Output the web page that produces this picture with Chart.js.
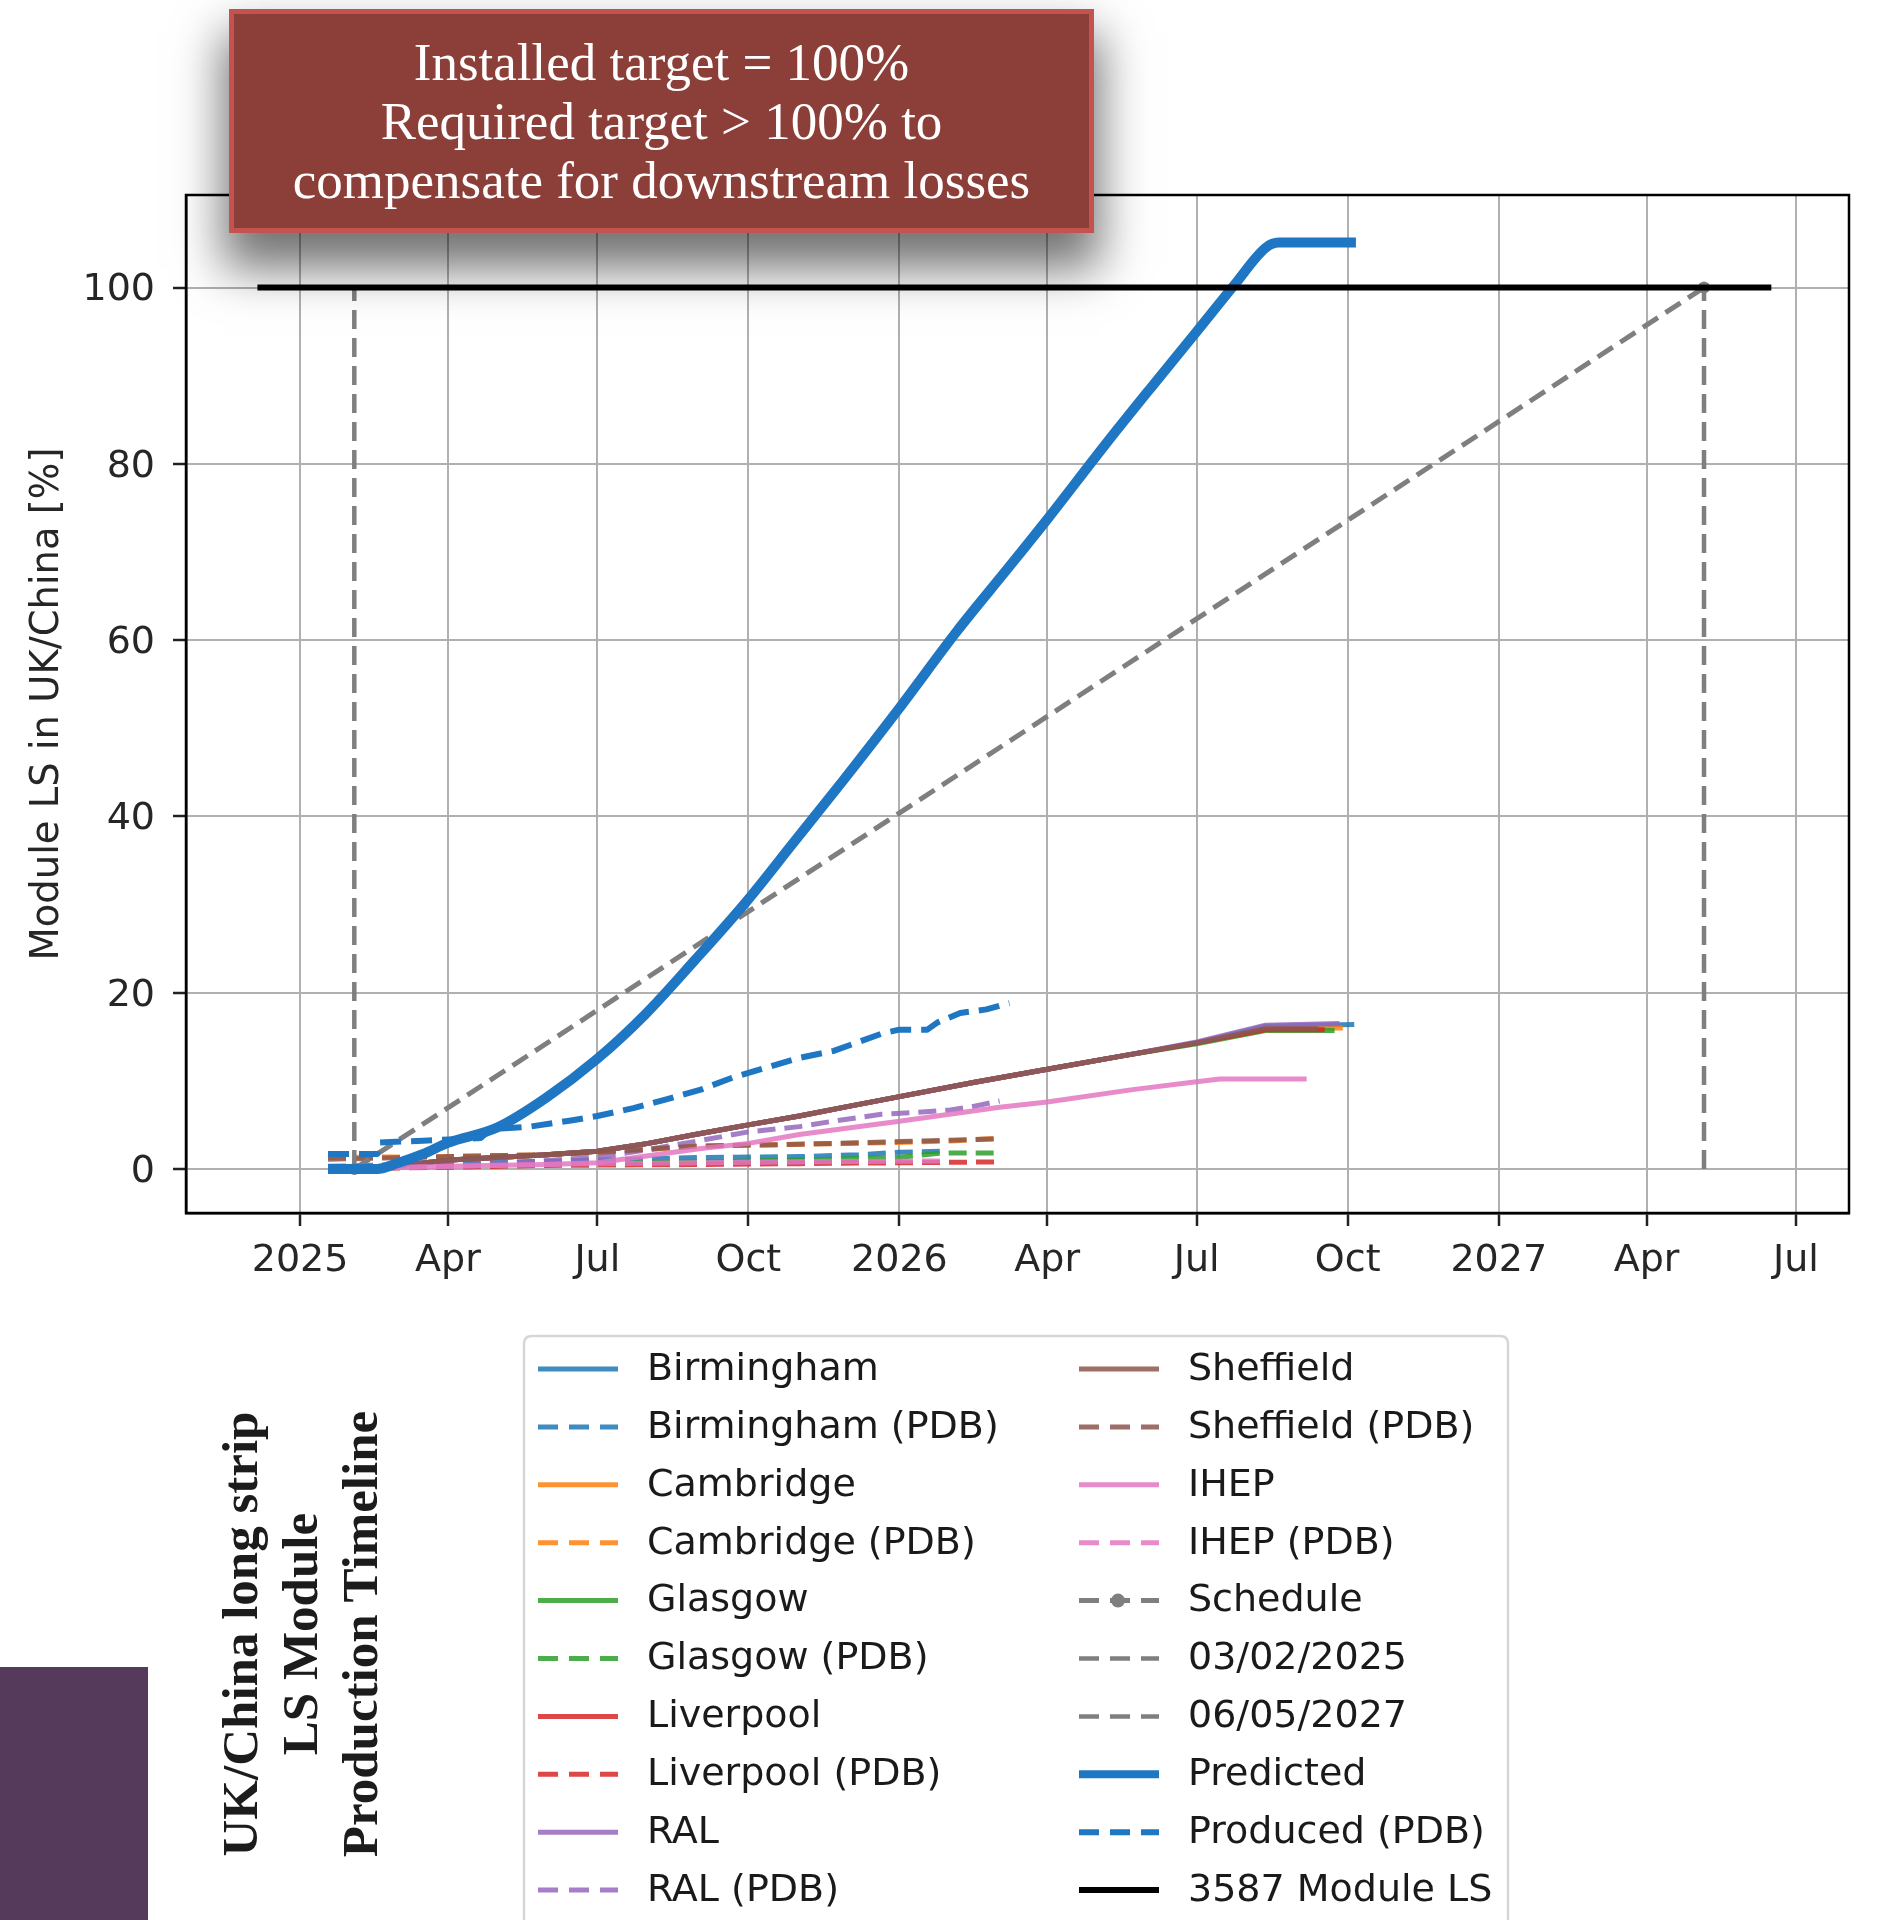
<!DOCTYPE html>
<html>
<head>
<meta charset="utf-8">
<script src="https://cdn.jsdelivr.net/npm/chart.js@4.4.1/dist/chart.umd.min.js"></script>
<style>
html,body{margin:0;padding:0;background:#fff;}
#wrap{position:relative;width:1888px;height:1920px;overflow:hidden;background:#fff;}
#c{position:absolute;left:0;top:0;}
#note{position:absolute;left:229px;top:9px;width:865px;height:224px;box-sizing:border-box;background:#8c3e38;border:5px solid #c2534e;box-shadow:0 30px 45px 6px rgba(0,0,0,0.55);color:#fff;font-family:'Liberation Serif',serif;font-size:53px;line-height:59px;text-align:center;display:flex;align-items:center;justify-content:center;}
#side{position:absolute;left:0;top:1667px;width:148px;height:253px;background:#553a5c;}
#vt{position:absolute;left:0;top:1544px;width:600px;height:180px;transform:rotate(-90deg);transform-origin:300px 90px;font-family:'Liberation Serif',serif;font-weight:bold;font-size:51px;line-height:60px;text-align:center;color:#1c1c1c;}
</style>
</head>
<body>
<div id="wrap">
<canvas id="c" width="1888" height="1920"></canvas>
<div id="note"><div>Installed target = 100%<br>Required target &gt; 100% to<br>compensate for downstream losses</div></div>
<div id="vt">UK/China long strip<br>LS Module<br>Production Timeline</div>
<div id="side"></div>
</div>
<script>
// ---------- DATA ----------
const xTickDates = ['2025-01-01','2025-04-01','2025-07-01','2025-10-01','2026-01-01','2026-04-01','2026-07-01','2026-10-01','2027-01-01','2027-04-01','2027-07-01'];
const xTickLabels = ['2025','Apr','Jul','Oct','2026','Apr','Jul','Oct','2027','Apr','Jul'];
const yTicks = [0,20,40,60,80,100];

const siteDates = ['2025-01-18','2025-02-10','2025-03-02','2025-04-02','2025-05-01','2025-05-31','2025-07-01','2025-08-01','2025-09-01','2025-10-01','2025-11-01','2025-12-01','2026-01-01','2026-02-15','2026-04-01','2026-05-16','2026-07-01','2026-08-12'];

const birminghamDates = siteDates.concat(['2026-10-05']);
const birminghamPct   = [0,0.1,0.4,1.0,1.3,1.6,2.0,2.9,4.0,5.0,6.0,7.1,8.2,9.8,11.3,12.8,14.3,16.2,16.4];
const cambridgeDates  = siteDates.concat(['2026-09-28']);
const cambridgePct    = [0,0.1,0.4,1.0,1.3,1.6,2.0,2.9,4.0,5.0,6.0,7.1,8.2,9.8,11.3,12.8,14.3,15.9,16.0];
const glasgowDates    = siteDates.concat(['2026-09-23']);
const glasgowPct      = [0,0.1,0.4,1.0,1.3,1.6,2.0,2.9,4.0,5.0,6.0,7.1,8.2,9.8,11.3,12.8,14.2,15.7,15.7];
const liverpoolDates  = siteDates.concat(['2026-09-17']);
const liverpoolPct    = [0,0.1,0.4,1.0,1.3,1.6,2.0,2.9,4.0,5.0,6.0,7.1,8.2,9.8,11.3,12.8,14.3,15.8,15.8];
const ralDates        = siteDates.concat(['2026-09-26']);
const ralPct          = [0,0.1,0.4,1.0,1.3,1.6,2.0,2.9,4.0,5.0,6.0,7.1,8.2,9.8,11.3,12.8,14.4,16.3,16.5];
const sheffieldDates  = siteDates.concat(['2026-09-13']);
const sheffieldPct    = [0,0.1,0.4,1.0,1.3,1.6,2.0,2.9,4.0,5.0,6.0,7.1,8.2,9.8,11.3,12.8,14.3,15.9,15.9];
const ihepDates = ['2025-01-31','2025-04-02','2025-05-31','2025-07-01','2025-08-01','2025-09-01','2025-10-01','2025-11-01','2026-01-01','2026-03-03','2026-04-01','2026-05-23','2026-07-01','2026-07-15','2026-09-06'];
const ihepPct   = [0,0.3,0.5,0.7,1.5,2.3,2.9,3.9,5.4,7.0,7.6,9.0,9.9,10.2,10.2];

const birminghamPdbDates = ['2025-01-18','2025-04-02','2025-07-01','2025-09-01','2025-11-01','2025-12-07','2026-01-01','2026-01-26'];
const birminghamPdbPct   = [0.3,0.6,1.0,1.3,1.4,1.6,1.9,2.0];
const cambridgePdbDates  = ['2025-01-18','2025-04-02','2025-05-31','2025-07-01','2025-08-01','2025-09-01','2025-11-01','2026-01-01','2026-02-05','2026-03-03'];
const cambridgePdbPct    = [1.3,1.4,1.6,1.8,2.2,2.6,2.8,3.0,3.2,3.5];
const glasgowPdbDates    = ['2025-01-18','2025-04-02','2025-07-01','2025-09-01','2025-11-01','2026-01-01','2026-01-26','2026-03-03'];
const glasgowPdbPct      = [0,0.3,0.6,0.8,1.0,1.3,1.8,1.8];
const liverpoolPdbDates  = ['2025-01-18','2025-04-02','2025-05-31','2025-09-01','2025-11-01','2026-01-01','2026-03-03'];
const liverpoolPdbPct    = [0,0.2,0.4,0.5,0.6,0.7,0.8];
const ralPdbDates        = ['2025-01-18','2025-04-02','2025-07-01','2025-08-01','2025-09-01','2025-10-01','2025-11-01','2025-11-21','2025-12-21','2026-01-11','2026-02-01','2026-02-15','2026-03-03'];
const ralPdbPct          = [0,0.3,1.3,2.2,3.2,4.2,4.8,5.4,6.2,6.4,6.7,7.1,7.7];
const sheffieldPdbDates  = ['2025-01-18','2025-04-02','2025-05-31','2025-07-01','2025-09-01','2025-11-01','2026-01-01','2026-03-03'];
const sheffieldPdbPct    = [1.1,1.4,1.6,1.9,2.6,2.8,3.1,3.4];
const ihepPdbDates       = ['2025-01-18','2025-04-02','2025-07-01','2025-09-01','2025-11-01','2026-01-26'];
const ihepPdbPct         = [0,0.3,0.6,0.7,0.8,0.9];

const scheduleDates = ['2025-02-03','2027-05-06'];
const schedulePct   = [0,100];
const startLineDates = ['2025-02-03','2025-02-03'];
const startLinePct   = [0,100];
const endLineDates   = ['2027-05-06','2027-05-06'];
const endLinePct     = [0,100];

const predictedDates = ['2025-01-18','2025-02-17','2025-03-02','2025-03-17','2025-04-01','2025-05-01','2025-05-31','2025-07-01','2025-07-30','2025-08-29','2025-10-01','2025-10-28','2025-11-27','2026-01-01','2026-02-05','2026-03-07','2026-04-01','2026-05-06','2026-06-03','2026-07-01','2026-07-24','2026-08-12','2026-08-20','2026-10-06'];
const predictedPct   = [0,0,0.7,1.7,2.95,4.7,8.1,12.5,17.5,23.6,30.6,36.9,43.9,52.3,61.0,67.9,73.7,82.1,88.6,95.0,100.3,104.5,105.1,105.1];

const producedDates = ['2025-01-18','2025-02-17','2025-02-18','2025-03-17','2025-04-21','2025-04-27','2025-05-21','2025-06-15','2025-07-01','2025-07-23','2025-08-12','2025-09-02','2025-09-22','2025-10-12','2025-11-01','2025-11-22','2025-12-22','2026-01-01','2026-01-18','2026-01-24','2026-02-07','2026-02-23','2026-03-09'];
const producedPct   = [1.7,1.7,3.0,3.2,3.5,4.5,4.8,5.5,6.0,6.9,7.9,9.0,10.4,11.5,12.6,13.4,15.4,15.8,15.8,16.6,17.7,18.1,18.8];

const targetDates = ['2024-12-06','2027-06-16'];
const targetPct   = [100,100];

// ---------- helpers ----------
const DAY0 = Date.UTC(2025,0,1);
function dayOf(s){ const p = s.split('-').map(Number); return (Date.UTC(p[0],p[1]-1,p[2]) - DAY0)/86400000; }
function pts(dates, vals){ return dates.map((d,i)=>({x:dayOf(d), y:vals[i]})); }
function rgba(hex,a){ const n=parseInt(hex.slice(1),16); return `rgba(${n>>16},${(n>>8)&255},${n&255},${a})`; }

const C = {blue:'#1f77b4',orange:'#ff7f0e',green:'#2ca02c',red:'#d62728',purple:'#9467bd',brown:'#8c564b',pink:'#e377c2',gray:'#7f7f7f'};
const SA = 0.85;
const DASH = [18,9];

function site(label,color,dates,vals){ return {label, data:pts(dates,vals), borderColor:rgba(color,SA), borderWidth:5}; }
function pdb(label,color,dates,vals){ return {label, data:pts(dates,vals), borderColor:rgba(color,SA), borderWidth:5, borderDash:DASH}; }

const datasets = [
  site('Birmingham',C.blue,birminghamDates,birminghamPct),
  pdb('Birmingham (PDB)',C.blue,birminghamPdbDates,birminghamPdbPct),
  site('Cambridge',C.orange,cambridgeDates,cambridgePct),
  pdb('Cambridge (PDB)',C.orange,cambridgePdbDates,cambridgePdbPct),
  site('Glasgow',C.green,glasgowDates,glasgowPct),
  pdb('Glasgow (PDB)',C.green,glasgowPdbDates,glasgowPdbPct),
  site('Liverpool',C.red,liverpoolDates,liverpoolPct),
  pdb('Liverpool (PDB)',C.red,liverpoolPdbDates,liverpoolPdbPct),
  site('RAL',C.purple,ralDates,ralPct),
  pdb('RAL (PDB)',C.purple,ralPdbDates,ralPdbPct),
  site('Sheffield',C.brown,sheffieldDates,sheffieldPct),
  pdb('Sheffield (PDB)',C.brown,sheffieldPdbDates,sheffieldPdbPct),
  site('IHEP',C.pink,ihepDates,ihepPct),
  pdb('IHEP (PDB)',C.pink,ihepPdbDates,ihepPdbPct),
  {label:'Schedule', data:pts(scheduleDates,schedulePct), borderColor:C.gray, borderWidth:5, borderDash:DASH, pointRadius:6, pointBackgroundColor:C.gray, pointBorderWidth:0, marker:true},
  {label:'03/02/2025', data:pts(startLineDates,startLinePct), borderColor:C.gray, borderWidth:4.5, borderDash:[19,9]},
  {label:'06/05/2027', data:pts(endLineDates,endLinePct), borderColor:C.gray, borderWidth:4.5, borderDash:[19,9]},
  {label:'Predicted', data:pts(predictedDates,predictedPct), borderColor:'#1f77c4', borderWidth:10, cubicInterpolationMode:'monotone'},
  {label:'Produced (PDB)', data:pts(producedDates,producedPct), borderColor:'#1f77c4', borderWidth:6, borderDash:[21,10]},
  {label:'3587 Module LS', data:pts(targetDates,targetPct), borderColor:'#000', borderWidth:6}
];
const N = datasets.length;
datasets.forEach((d,i)=>{
  d.order = N - i;
  d.fill = false; d.tension = 0;
  if (d.pointRadius === undefined) d.pointRadius = 0;
  d.pointHoverRadius = 0;
  d.borderCapStyle = 'butt';
  d.borderJoinStyle = 'round';
});

const TEXT = '#262626';
Chart.defaults.font.family = "'DejaVu Sans', sans-serif";
Chart.defaults.font.size = 38;
Chart.defaults.color = TEXT;

const framePlugin = {
  id:'frame',
  afterDatasetsDraw(chart){
    const {ctx, chartArea:a} = chart;
    ctx.save();
    ctx.strokeStyle = '#000'; ctx.lineWidth = 2.5; ctx.setLineDash([]);
    ctx.strokeRect(a.left, a.top, a.right-a.left, a.bottom-a.top);
    ctx.restore();
  }
};

const legendPlugin = {
  id:'colLegend',
  afterDraw(chart){
    const ctx = chart.ctx;
    const box = {l:524, t:1336, r:1508, b:1940};
    ctx.save();
    ctx.beginPath();
    const rr = 8;
    ctx.moveTo(box.l+rr, box.t);
    ctx.lineTo(box.r-rr, box.t); ctx.quadraticCurveTo(box.r, box.t, box.r, box.t+rr);
    ctx.lineTo(box.r, box.b); ctx.lineTo(box.l, box.b);
    ctx.lineTo(box.l, box.t+rr); ctx.quadraticCurveTo(box.l, box.t, box.l+rr, box.t);
    ctx.fillStyle = 'rgba(255,255,255,0.8)'; ctx.fill();
    ctx.strokeStyle = '#d6d6d6'; ctx.lineWidth = 2.5; ctx.stroke();
    const rows = 10, y0 = 1370, dy = 57.9;
    const cols = [{h0:536,h1:618,tx:647},{h0:1077,h1:1159,tx:1188}];
    ctx.font = "38px 'DejaVu Sans'";
    ctx.textBaseline = 'middle'; ctx.textAlign = 'left';
    chart.data.datasets.forEach((ds,i)=>{
      const c = cols[Math.floor(i/rows)], y = y0 + (i%rows)*dy;
      ctx.strokeStyle = ds.borderColor;
      ctx.lineWidth = Math.min(ds.borderWidth, 8);
      ctx.setLineDash(ds.borderDash ? [20,11] : []);
      ctx.lineCap = 'butt';
      ctx.beginPath(); ctx.moveTo(c.h0+2, y-1); ctx.lineTo(c.h1, y-1); ctx.stroke();
      if (ds.marker){ ctx.setLineDash([]); ctx.fillStyle = ds.borderColor; ctx.beginPath(); ctx.arc((c.h0+c.h1)/2, y-1, 7, 0, Math.PI*2); ctx.fill(); }
      ctx.setLineDash([]);
      ctx.fillStyle = '#1a1a1a';
      ctx.fillText(ds.label, c.tx, y);
    });
    ctx.restore();
  }
};

const xTickDays = xTickDates.map(dayOf);

new Chart(document.getElementById('c'), {
  type:'line',
  data:{datasets},
  plugins:[framePlugin, legendPlugin],
  options:{
    responsive:false, devicePixelRatio:1, animation:false,
    layout:{padding:{left:0, right:39, top:195, bottom:607}},
    plugins:{legend:{display:false}, tooltip:{enabled:false}},
    scales:{
      x:{
        type:'linear', min:-69.5, max:943.3,
        afterBuildTicks(s){ s.ticks = xTickDays.map(v=>({value:v})); },
        afterFit(s){ s.height = 100; },
        ticks:{autoSkip:false, maxRotation:0, minRotation:0, padding:12, color:TEXT, font:{size:38},
          callback(v,i){ return xTickLabels[i]; }},
        grid:{color:'#b0b0b0', lineWidth:2, tickColor:'#222', tickLength:13, tickWidth:2.5},
        border:{display:true, color:'#000', width:2.5}
      },
      y:{
        type:'linear', min:-5, max:110.5,
        afterBuildTicks(s){ s.ticks = yTicks.map(v=>({value:v})); },
        afterFit(s){ s.width = 186; },
        ticks:{padding:18, labelOffset:3, color:TEXT, font:{size:38}},
        grid:{color:'#b0b0b0', lineWidth:2, tickColor:'#222', tickLength:13, tickWidth:2.5},
        border:{display:true, color:'#000', width:2.5},
        title:{display:true, text:'Module LS in UK/China [%]', color:TEXT, font:{size:38.5}, padding:{top:25, bottom:0}}
      }
    }
  }
});
</script>
</body>
</html>
